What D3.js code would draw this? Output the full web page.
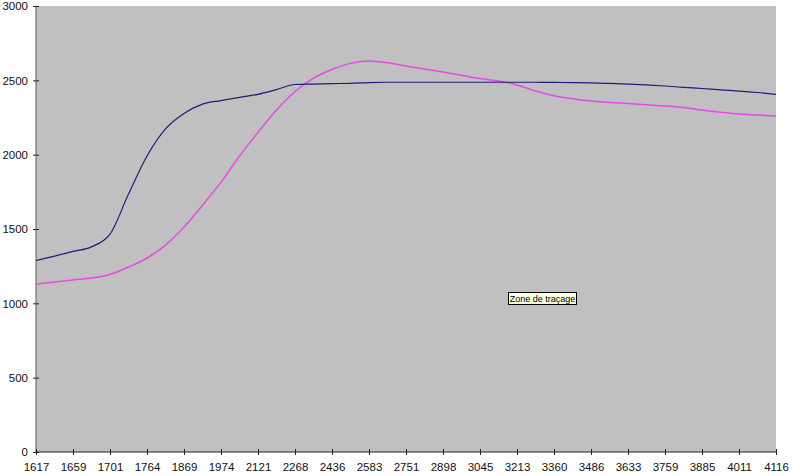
<!DOCTYPE html>
<html><head><meta charset="utf-8">
<script src="https://cdn.jsdelivr.net/npm/d3@7"></script>
<style>
html,body{margin:0;padding:0;background:#fff;}
svg{display:block;}
text{font-family:"Liberation Sans",Arial,sans-serif;}
</style></head>
<body>
<script>
// Category tick labels along the x axis
const categories = ["1617","1659","1701","1764","1869","1974","2121","2268","2436","2583","2751","2898","3045","3213","3360","3486","3633","3759","3885","4011","4116"];
// Positions of data samples, in category-index units (half steps between labels)
const samplePos = [0,0.5,1,1.5,2,2.5,3,3.5,4,4.5,5,5.5,6,6.5,7,7.5,8,8.5,9,9.5,10,10.5,11,11.5,12,12.5,13,13.5,14,14.5,15,15.5,16,16.5,17,17.5,18,18.5,19,19.5,20];
// Series 1 (navy)
const seriesBlue = [1288,1318,1349,1380,1465,1735,1991,2173,2277,2340,2364,2385,2406,2438,2472,2475,2478,2480,2485,2487,2487,2487,2487,2487,2487,2487,2487,2487,2486,2485,2483,2479,2475,2469,2462,2453,2445,2436,2428,2418,2405];
// Series 2 (magenta)
const seriesPink = [1130,1143,1157,1170,1194,1244,1305,1392,1513,1660,1815,1990,2150,2300,2425,2515,2573,2614,2630,2618,2596,2576,2556,2534,2512,2495,2469,2428,2397,2376,2361,2351,2344,2335,2327,2317,2300,2285,2273,2267,2260];
const yTicks = [0,500,1000,1500,2000,2500,3000];

const W = 800, H = 476;
const plot = {left:36, right:776, top:6, bottom:452};

const svg = d3.select("body").append("svg").attr("width",W).attr("height",H);

const x = d3.scaleLinear().domain([0, categories.length-1]).range([plot.left, plot.right]);
const y = d3.scaleLinear().domain([0,3000]).range([plot.bottom, plot.top]);

// plot area
svg.append("rect").attr("x",plot.left).attr("y",plot.top)
  .attr("width",plot.right-plot.left).attr("height",plot.bottom-plot.top)
  .attr("fill","#c0c0c0");

// Y axis
const yAxis = d3.axisLeft(y).tickValues(yTicks).tickSize(3).tickPadding(5).tickFormat(d3.format("d"));
const gy = svg.append("g").attr("transform",`translate(${plot.left},0)`).call(yAxis);
gy.select(".domain").attr("stroke","#5a5a5a").attr("d",`M0,${plot.top}V${plot.bottom}`);
gy.selectAll(".tick line").attr("stroke","#222").attr("x1",3).attr("x2",-3);
gy.selectAll(".tick text").attr("font-size",11.5).attr("fill","#111").attr("font-family","'Liberation Sans',Arial,sans-serif");

// X axis
const xAxis = d3.axisBottom(x).tickValues(d3.range(categories.length)).tickFormat(i=>categories[i]).tickSize(3).tickPadding(8);
const gx = svg.append("g").attr("transform",`translate(0,${plot.bottom})`).call(xAxis);
gx.select(".domain").attr("stroke","#222").attr("d",`M${plot.left},0H${plot.right}`);
gx.selectAll(".tick line").attr("stroke","#222").attr("y1",-3).attr("y2",3);
gx.selectAll(".tick text").attr("font-size",11.5).attr("fill","#111").attr("font-family","'Liberation Sans',Arial,sans-serif");

const line = d3.line().x((d,i)=>x(samplePos[i])).y(d=>y(d)).curve(d3.curveMonotoneX);

svg.append("path").datum(seriesPink).attr("d",line)
  .attr("fill","none").attr("stroke","#e64ae6").attr("stroke-width",1.5);
svg.append("path").datum(seriesBlue).attr("d",line)
  .attr("fill","none").attr("stroke","#1c1c7c").attr("stroke-width",1.2);

// tooltip
const tip = svg.append("g").attr("transform","translate(508,292)");
tip.append("rect").attr("x",0.5).attr("y",0.5).attr("width",68).attr("height",12)
  .attr("fill","#ffffe1").attr("stroke","#000").attr("stroke-width",1);
tip.append("text").attr("x",34.5).attr("y",9.5).attr("text-anchor","middle")
  .attr("font-size",9).attr("fill","#000").text("Zone de traçage");
</script>
</body></html>
